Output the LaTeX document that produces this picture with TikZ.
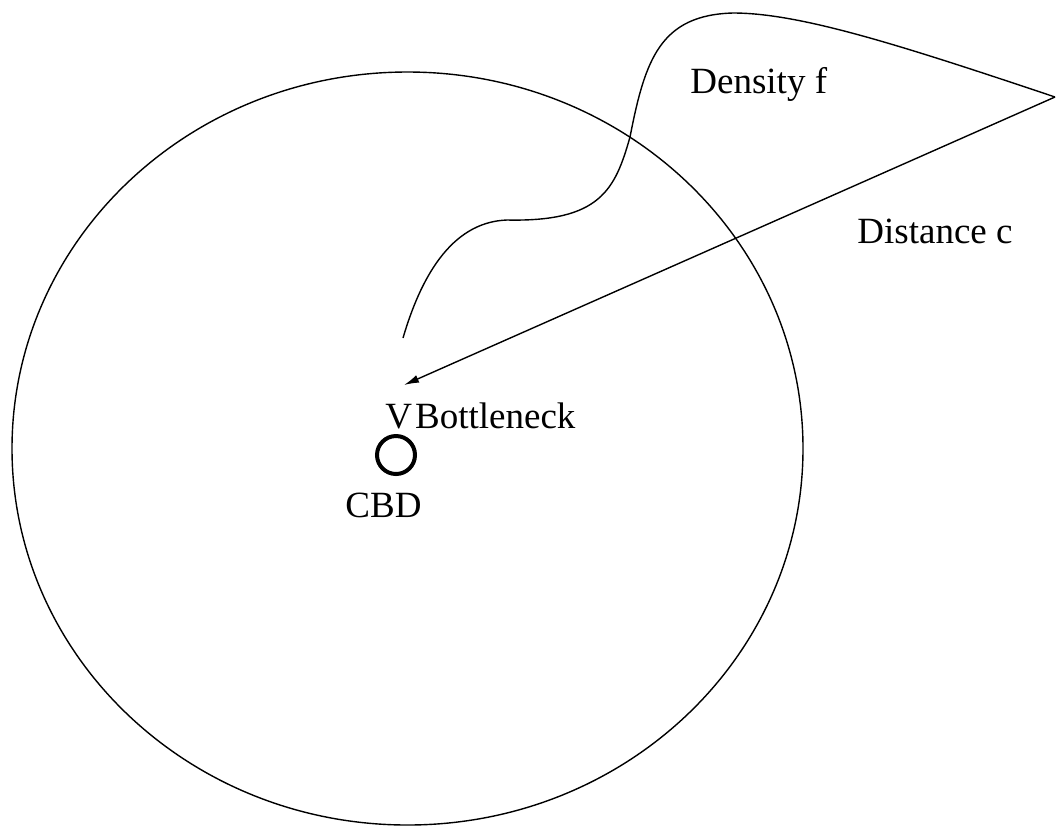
\documentclass[tikz,border=0pt]{standalone}
\usepackage{fontspec}
\setmainfont{Liberation Serif}
\usetikzlibrary{arrows.meta}
\begin{document}
\begin{tikzpicture}[x=0.5pt,y=-0.5pt,
  thinline/.style={line width=0.7pt, black},
  lbl/.style={anchor=base west, inner sep=0pt, font=\fontsize{18.5}{22}\selectfont},
  cbdmark/.style={circle, draw, line width=2pt, minimum size=19pt, inner sep=0pt}]
\useasboundingbox (0,0) rectangle (1064,832);
% big circle (zone)
\draw[thinline] (407.5,448.5) ellipse [x radius=197.75pt, y radius=188.25pt];
% CBD marker and labels
\node[cbdmark] (cbd) at (396,455) {};
\node[lbl] (cbdtext) at (345,517) {CBD};
\node[lbl] (bottleneck) at (385,428) {V\hspace{1.5pt}Bottleneck};
\node[lbl] (density) at (690,93) {Density f};
\node[lbl] (distance) at (857,243) {Distance c};
% density curve
\coordinate (cstart) at (403,338);
\coordinate (apex) at (1055,97);
\coordinate (tip) at (404,385);
\draw[thinline] (cstart) .. controls (420,280) and (450,222) .. (507,220)
  .. controls (600,222) and (615,190) .. (630,137)
  .. controls (645,60) and (660,15) .. (733,13)
  .. controls (800,13) and (900,45) .. (apex);
% distance arrow
\draw[thinline, -{Latex[length=7.5pt,width=4pt]}] (apex) -- (tip);
\end{tikzpicture}
\end{document}
